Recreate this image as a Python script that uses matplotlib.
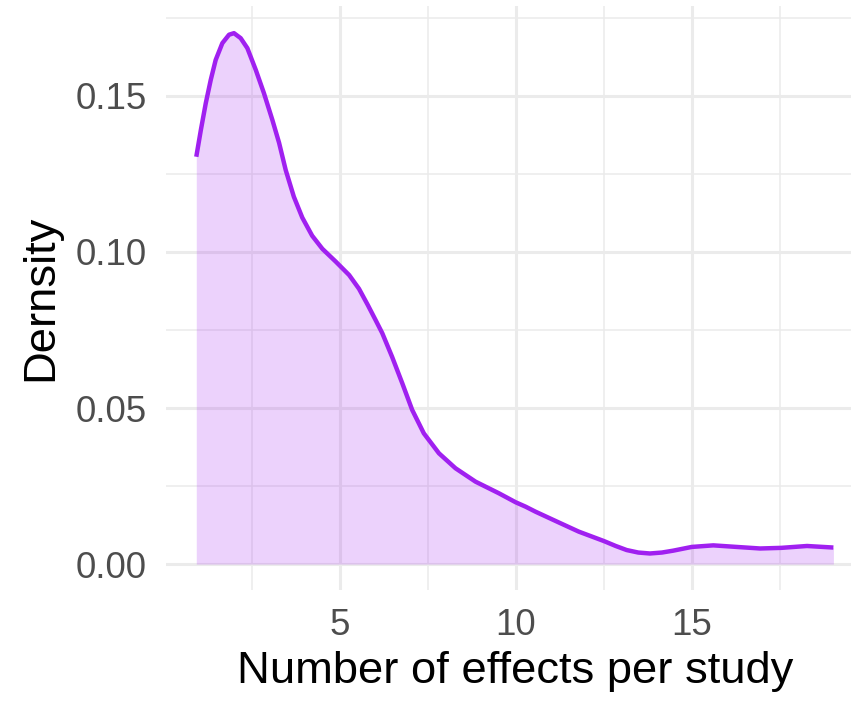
import matplotlib.pyplot as plt
from matplotlib.ticker import MultipleLocator

# density curve
effects = [0.93, 1.06, 1.20, 1.34, 1.48, 1.67, 1.86, 2.00, 2.19, 2.38, 2.62, 2.85,
           3.09, 3.28, 3.47, 3.70, 3.94, 4.22, 4.51, 4.89, 5.27, 5.55, 5.80, 6.02,
           6.21, 6.49, 6.78, 7.06, 7.39, 7.82, 8.29, 8.86, 9.52, 10.0, 10.28,
           10.56, 11.25, 11.79, 12.5, 12.84, 13.15, 13.48, 13.81, 14.15, 14.47,
           15.0, 15.61, 16.27, 16.94, 17.54, 18.27, 19.02]
density = [0.1305, 0.1391, 0.1477, 0.1551, 0.1615, 0.1669, 0.1696, 0.1701, 0.1685,
           0.1653, 0.1583, 0.1509, 0.1423, 0.1350, 0.1262, 0.1177, 0.1110, 0.1052,
           0.1010, 0.0969, 0.0926, 0.0882, 0.0830, 0.0782, 0.0740, 0.0664, 0.0579,
           0.0494, 0.0419, 0.0355, 0.0307, 0.0264, 0.0227, 0.0198, 0.0184, 0.0168,
           0.0132, 0.0104, 0.0074, 0.0058, 0.0045, 0.0037, 0.0034, 0.0037, 0.0043,
           0.0055, 0.0060, 0.0055, 0.0050, 0.0052, 0.0058, 0.0053]

x_ticks = [5, 10, 15]
y_ticks = [0.00, 0.05, 0.10, 0.15]
y_tick_labels = ['0.00', '0.05', '0.10', '0.15']

plt.rcParams['font.family'] = ['Liberation Sans', 'DejaVu Sans']

fig = plt.figure(figsize=(8.51, 7.05), dpi=100)
ax = fig.add_axes([166 / 851, 1 - 590 / 705, 1 - 166 / 851, 584 / 705])

purple = '#A020F0'
ax.fill_between(effects, density, 0, color=purple, alpha=0.2, linewidth=0, zorder=2)
ax.plot(effects, density, color=purple, linewidth=3.2, zorder=3,
        solid_capstyle='butt', solid_joinstyle='round')

ax.set_xlim(0.07, 19.52)
ax.set_ylim(-0.0083, 0.1788)

ax.set_xticks(x_ticks)
ax.set_xticklabels([str(t) for t in x_ticks])
ax.set_yticks(y_ticks)
ax.set_yticklabels(y_tick_labels)
ax.xaxis.set_minor_locator(MultipleLocator(2.5))
ax.yaxis.set_minor_locator(MultipleLocator(0.025))

ax.grid(which='major', color='#EBEBEB', linewidth=2.2, zorder=0)
ax.grid(which='minor', color='#EBEBEB', linewidth=1.1, zorder=0)
ax.set_axisbelow(True)

for s in ax.spines.values():
    s.set_visible(False)

ax.tick_params(axis='both', which='both', length=0, labelsize=26.5, labelcolor='#4D4D4D')
ax.tick_params(axis='y', pad=14)
ax.tick_params(axis='x', pad=13)

ax.set_xlabel('Number of effects per study', fontsize=32.7, color='black', labelpad=6)
ax.xaxis.label.set_x(0.51)
ax.set_ylabel('Dernsity', fontsize=32.7, color='black', labelpad=10)

fig.savefig('out.png', dpi=100)
